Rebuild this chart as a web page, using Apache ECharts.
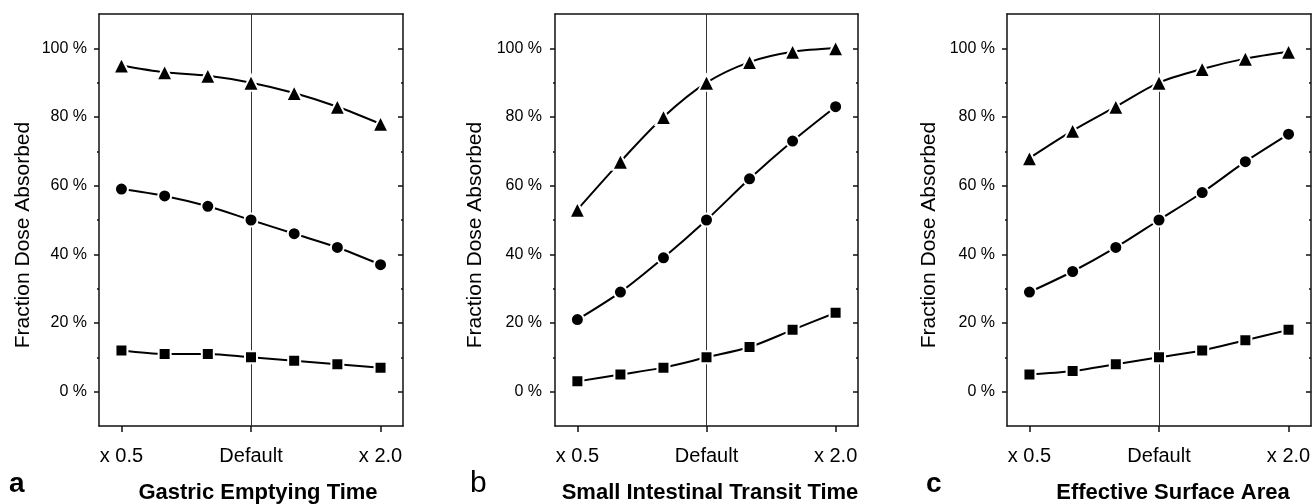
<!DOCTYPE html>
<html>
<head>
<meta charset="utf-8">
<script src="https://cdn.jsdelivr.net/npm/echarts@6/dist/echarts.min.js"></script>
<style>
  html, body { margin: 0; padding: 0; background: #fff; }
  #chart { width: 1316px; height: 504px; }
</style>
</head>
<body>
<div id="chart"></div>
<script>
const FONT = "'Liberation Sans', Arial, sans-serif";

// x positions: 7 steps from x0.5 to x2.0, labelled at 0, 3, 6
const steps = [0, 1, 2, 3, 4, 5, 6];
const xTickLabels = ["x 0.5", "Default", "x 2.0"];
const yMajor = [0, 20, 40, 60, 80, 100];
const yMinor = [10, 30, 50, 70, 90];

const panelTitles = ["Gastric Emptying Time", "Small Intestinal Transit Time", "Effective Surface Area"];
const panelLetters = ["a", "b", "c"];

// panel a
const gastricHigh = [95, 93, 92, 90, 87, 83, 78];
const gastricMid = [59, 57, 54, 50, 46, 42, 37];
const gastricLow = [12, 11, 11, 10, 9, 8, 7];
// panel b
const transitHigh = [53, 67, 80, 90, 96, 99, 100];
const transitMid = [21, 29, 39, 50, 62, 73, 83];
const transitLow = [3, 5, 7, 10, 13, 18, 23];
// panel c
const surfaceHigh = [68, 76, 83, 90, 94, 97, 99];
const surfaceMid = [29, 35, 42, 50, 58, 67, 75];
const surfaceLow = [5, 6, 8, 10, 12, 15, 18];

const panelData = [
  [gastricHigh, gastricMid, gastricLow],
  [transitHigh, transitMid, transitLow],
  [surfaceHigh, surfaceMid, surfaceLow],
];

// layout of the three plot boxes
const panels = [
  { left: 99, width: 304, yName: 23, title: 258, letter: 9, labelMargin: 12 },
  { left: 555, width: 303, yName: 475, title: 710, letter: 470, labelMargin: 13 },
  { left: 1007, width: 304, yName: 929, title: 1173, letter: 926, labelMargin: 12 },
];

const markers = [
  { symbol: "triangle", size: 16 },
  { symbol: "circle", size: 13 },
  { symbol: "rect", size: 12 },
];

const AXIS_LINE = { show: true, onZero: false, lineStyle: { color: "#111", width: 1.5 } };
const NO_LINE = { show: false, onZero: false };

const grid = [], xAxis = [], yAxis = [], series = [], graphic = [];

panels.forEach((p, i) => {
  grid.push({ left: p.left, width: p.width, top: 14, height: 412 });

  // bottom axis with labels
  xAxis.push({
    type: "value", gridIndex: i, position: "bottom", min: -0.52, max: 6.52,
    axisLine: AXIS_LINE,
    axisTick: { show: true, customValues: [0, 3, 6], length: 6, lineStyle: { color: "#111", width: 1.5 } },
    axisLabel: {
      customValues: [0, 3, 6], margin: 20, color: "#000", fontSize: 20, fontFamily: FONT,
      formatter: (v) => xTickLabels[v / 3],
    },
    splitLine: { show: false },
  });
  // top frame
  xAxis.push({
    type: "value", gridIndex: i, position: "top", min: -0.52, max: 6.52,
    axisLine: AXIS_LINE, axisTick: { show: false }, axisLabel: { show: false }, splitLine: { show: false },
  });

  const yBase = { type: "value", gridIndex: i, min: -10, max: 110, interval: 10, splitLine: { show: false } };
  // left major
  yAxis.push({
    ...yBase, position: "left",
    axisLine: AXIS_LINE,
    axisTick: { show: true, customValues: yMajor, length: 5, lineStyle: { color: "#111", width: 1.5 } },
    axisLabel: {
      customValues: yMajor, margin: p.labelMargin, color: "#000", fontSize: 16, fontFamily: FONT,
      formatter: (v) => v + " %",
    },
  });
  // left minor
  yAxis.push({
    ...yBase, position: "left",
    axisLine: NO_LINE,
    axisTick: { show: true, customValues: yMinor, length: 2, lineStyle: { color: "#111", width: 1.5 } },
    axisLabel: { show: false },
  });
  // right major (inside)
  yAxis.push({
    ...yBase, position: "right",
    axisLine: AXIS_LINE,
    axisTick: { show: true, inside: true, customValues: yMajor, length: 5, lineStyle: { color: "#111", width: 1.5 } },
    axisLabel: { show: false },
  });
  // right minor (inside)
  yAxis.push({
    ...yBase, position: "right",
    axisLine: NO_LINE,
    axisTick: { show: true, inside: true, customValues: yMinor, length: 2, lineStyle: { color: "#111", width: 1.5 } },
    axisLabel: { show: false },
  });

  panelData[i].forEach((vals, k) => {
    series.push({
      type: "line",
      xAxisIndex: i * 2,
      yAxisIndex: i * 4,
      data: steps.map((s, j) => [s, vals[j]]),
      smooth: 0.3,
      symbol: markers[k].symbol,
      symbolSize: markers[k].size,
      lineStyle: { color: "#000", width: 2 },
      itemStyle: { color: "#000", borderColor: "#fff", borderWidth: 2 },
      z: 3,
      markLine: k === 0 ? {
        silent: true, symbol: "none", label: { show: false },
        lineStyle: { color: "#333", width: 1, type: "solid" },
        data: [{ xAxis: 3 }],
        z: 1,
      } : undefined,
      animation: false,
    });
  });

  graphic.push({
    type: "text", x: p.yName, y: 235, rotation: Math.PI / 2,
    style: { text: "Fraction Dose Absorbed", fontSize: 21, fontFamily: FONT, fill: "#000", align: "center", verticalAlign: "middle" },
  });
  graphic.push({
    type: "text", x: p.title, y: 493,
    style: { text: panelTitles[i], fontSize: 22, fontWeight: "bold", fontFamily: FONT, fill: "#000", align: "center", verticalAlign: "middle" },
  });
  graphic.push({
    type: "text", x: p.letter, y: 484,
    style: {
      text: panelLetters[i], fontSize: i === 1 ? 30 : 28, fontWeight: i === 1 ? "normal" : "bold",
      fontFamily: FONT, fill: "#000", align: "left", verticalAlign: "middle",
    },
  });
});

const chart = echarts.init(document.getElementById("chart"), null, { renderer: "canvas" });
chart.setOption({
  backgroundColor: "#fff",
  animation: false,
  grid, xAxis, yAxis, series, graphic,
});
</script>
</body>
</html>
